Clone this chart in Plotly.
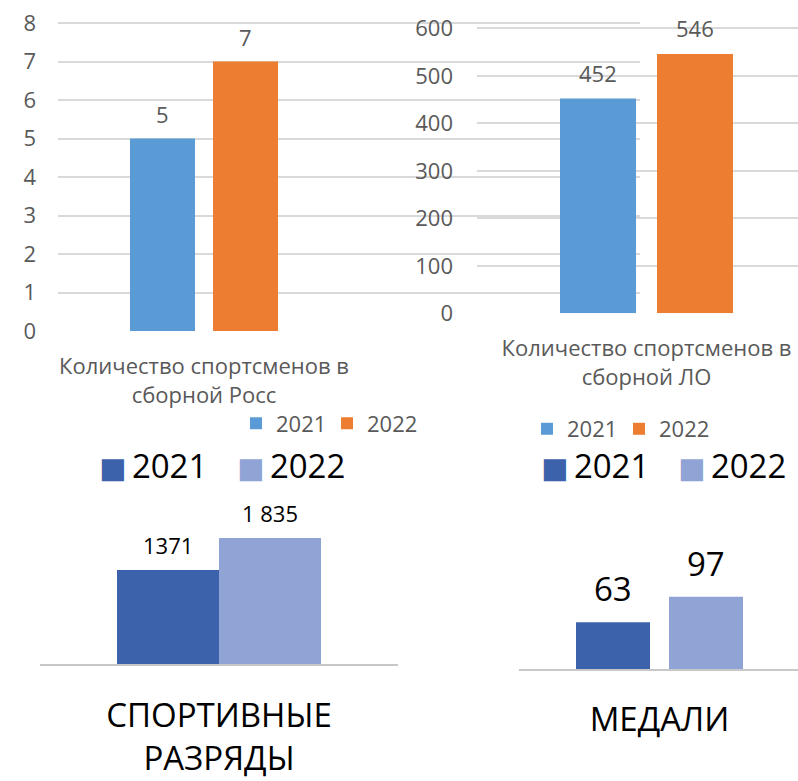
import plotly.graph_objects as go

W, H = 798, 781

# ---------------- data ----------------
years = ["2021", "2022"]

cat_ross = ["Количество спортсменов в<br>сборной Росс"]
ross_2021 = [5]
ross_2022 = [7]
ross_ticks = [0, 1, 2, 3, 4, 5, 6, 7, 8]

cat_lo = ["Количество спортсменов в<br>сборной ЛО"]
lo_2021 = [452]
lo_2022 = [546]
lo_ticks = [0, 100, 200, 300, 400, 500, 600]

cat_razr = ["СПОРТИВНЫЕ<br>РАЗРЯДЫ"]
razr_2021 = [1371]
razr_2022 = [1835]
razr_labels_2021 = ["1371"]
razr_labels_2022 = ["1 835"]

cat_med = ["МЕДАЛИ"]
med_2021 = [63]
med_2022 = [97]

# ---------------- styles ----------------
C_BLUE = "#5B9BD5"
C_ORANGE = "#ED7D31"
C_DARK = "#3C62AC"
C_LIGHT = "#8FA3D4"
GRAY_TXT = "#595959"
GRID = "#D9D9D9"
FONT = "Open Sans"


def fx(p):
    return p / W


def fy(p):
    return 1 - p / H


panels = [
    dict(s="", a=58, b=640, c=204, u=292, bw=65, gap=18, yb=331, k=38.5, ymax=8.2,
         stand=20, ystand=21, lshift=8),
    dict(s="2", a=477, b=798, c=646.5, u=339, bw=76, gap=21, yb=313.3, k=0.475, ymax=620,
         stand=20, ystand=23, lshift=9),
    dict(s="3", a=40, b=398, c=219, u=358, bw=102, gap=0, yb=664.3, k=0.0688, ymax=2400,
         stand=21, lshift=8),
    dict(s="4", a=519, b=798, c=659.5, u=282, bw=74, gap=19, yb=669.3, k=0.747, ymax=200,
         stand=20, lshift=9),
]

series = [
    (cat_ross, [ross_2021, ross_2022], [C_BLUE, C_ORANGE],
     [[str(v) for v in ross_2021], [str(v) for v in ross_2022]], "legend"),
    (cat_lo, [lo_2021, lo_2022], [C_BLUE, C_ORANGE],
     [[str(v) for v in lo_2021], [str(v) for v in lo_2022]], "legend2"),
    (cat_razr, [razr_2021, razr_2022], [C_DARK, C_LIGHT],
     [razr_labels_2021, razr_labels_2022], None),
    (cat_med, [med_2021, med_2022], [C_DARK, C_LIGHT],
     [[str(v) for v in med_2021], [str(v) for v in med_2022]], None),
]

label_fonts = [
    dict(family=FONT, size=22, color=GRAY_TXT),
    dict(family=FONT, size=22, color=GRAY_TXT),
    dict(family=FONT, size=22, color="black"),
    dict(family=FONT, size=33, color="black"),
]

fig = go.Figure()
annotations = []
layout_axes = {}

for i, (p, (cats, vals, cols, labs, leg)) in enumerate(zip(panels, series)):
    xa = "x" + p["s"]
    ya = "y" + p["s"]
    u = p["u"]
    w = p["bw"] / u
    offs = [-(p["bw"] + p["gap"] / 2) / u, (p["gap"] / 2) / u]
    for j in range(2):
        tr = dict(
            x=cats, y=vals[j], name=years[j], marker_color=cols[j],
            marker_line_width=0, width=w, offset=offs[j],
            xaxis=xa, yaxis=ya, hoverinfo="skip",
        )
        if leg:
            tr["legend"] = leg
            tr["showlegend"] = True
        else:
            tr["showlegend"] = False
        fig.add_trace(go.Bar(**tr))
        for cat, v, lab in zip(cats, vals[j], labs[j]):
            annotations.append(dict(
                x=cat, y=v, xref=xa, yref=ya, text=lab, showarrow=False,
                xanchor="center", yanchor="bottom",
                xshift=(offs[j] + w / 2) * u, yshift=p["lshift"],
                font=label_fonts[i],
            ))
    xr = [(p["a"] - p["c"]) / u, (p["b"] - p["c"]) / u]
    xname = "xaxis" + p["s"]
    yname = "yaxis" + p["s"]
    xdom = [fx(p["a"]), min(1, fx(p["b"]))]
    ydom = [fy(p["yb"]), fy(p["yb"] - p["k"] * p["ymax"])]
    if i < 2:
        layout_axes[xname] = dict(
            domain=xdom, anchor=ya, type="category", range=xr, automargin=False,
            showgrid=False, zeroline=False, showline=False, ticks="",
            tickfont=dict(family=FONT, size=22, color=GRAY_TXT),
            ticklabelstandoff=p["stand"],
        )
        layout_axes[yname] = dict(
            domain=ydom, anchor=xa, range=[0, p["ymax"]], automargin=False,
            tickvals=ross_ticks if i == 0 else lo_ticks,
            showgrid=True, gridcolor=GRID, gridwidth=1.5, zeroline=False,
            showline=False, ticks="",
            tickfont=dict(family=FONT, size=22, color=GRAY_TXT),
            ticklabelstandoff=p["ystand"],
        )
    else:
        layout_axes[xname] = dict(
            domain=xdom, anchor=ya, type="category", range=xr, automargin=False,
            showgrid=False, zeroline=False, showline=True,
            linecolor="#C8C8C8", linewidth=1.5, ticks="",
            tickfont=dict(family=FONT, size=33, color="black"),
            ticklabelstandoff=p["stand"],
        )
        layout_axes[yname] = dict(
            domain=ydom, anchor=xa, range=[0, p["ymax"]], visible=False,
            automargin=False, showgrid=False, zeroline=False,
        )

big_legend = [
    (97, C_DARK, years[0]), (235, C_LIGHT, years[1]),
    (539, C_DARK, years[0]), (676, C_LIGHT, years[1]),
]
for xp, col, yr in big_legend:
    annotations.append(dict(
        x=fx(xp), y=fy(465), xref="paper", yref="paper",
        xanchor="left", yanchor="middle", showarrow=False,
        text=(f"<span style='color:{col};font-family:DejaVu Sans;font-size:29px'>■</span>"
              f"\u2009{yr}"),
        font=dict(family=FONT, size=33, color="black"),
    ))

fig.update_layout(
    width=W, height=H,
    margin=dict(l=0, r=0, t=0, b=0, autoexpand=False),
    paper_bgcolor="white", plot_bgcolor="rgba(0,0,0,0)",
    barmode="overlay",
    font=dict(family=FONT, color=GRAY_TXT),
    annotations=annotations,
    legend=dict(orientation="h", x=fx(236), y=fy(423.5), xanchor="left",
                yanchor="middle", font=dict(family=FONT, size=22, color=GRAY_TXT),
                bgcolor="rgba(0,0,0,0)", traceorder="normal", entrywidth=46),
    legend2=dict(orientation="h", x=fx(527), y=fy(429), xanchor="left",
                 yanchor="middle", font=dict(family=FONT, size=22, color=GRAY_TXT),
                 bgcolor="rgba(0,0,0,0)", traceorder="normal", entrywidth=47),
    **layout_axes,
)

fig.write_html(
    "out.html",
    config={"displayModeBar": False},
    post_script="document.body.style.margin='0';document.body.style.overflow='hidden';",
)
